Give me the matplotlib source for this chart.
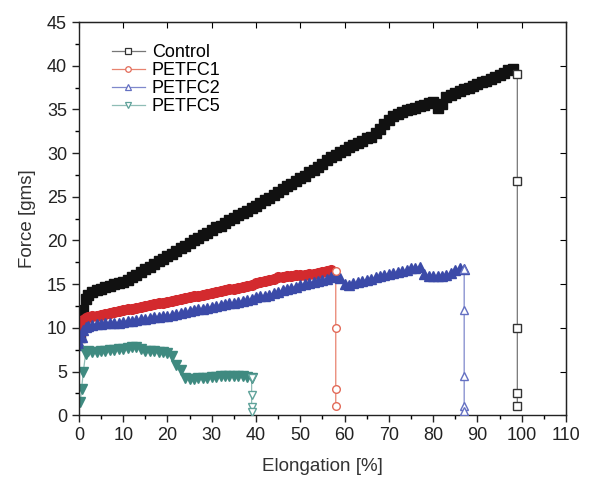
import matplotlib
matplotlib.use("Agg")
import matplotlib.pyplot as plt
from matplotlib.lines import Line2D
from matplotlib.ticker import MultipleLocator

plt.rcParams['font.family'] = ['Liberation Sans', 'DejaVu Sans']

# tramo continuo (banda densa) de cada serie
ctrl_x = [0.3, 0.6, 1, 1.5] + list(range(2, 99))
ctrl_y = [9.0, 10.5, 12.0, 13.3,
          13.8, 14.1, 14.3, 14.5, 14.7, 14.8, 15.0, 15.1, 15.3, 15.5,
          15.8, 16.1, 16.4, 16.7, 17.0, 17.3, 17.6, 17.9, 18.2, 18.5,
          18.8, 19.1, 19.4, 19.7, 20.0, 20.3, 20.6, 20.9, 21.2, 21.5,
          21.7, 22.0, 22.3, 22.6, 22.9, 23.1, 23.4, 23.7, 24.0, 24.3,
          24.6, 24.9, 25.2, 25.6, 25.9, 26.2, 26.5, 26.8, 27.1, 27.4,
          27.8, 28.1, 28.4, 28.8, 29.2, 29.5, 29.8, 30.1, 30.4, 30.7,
          30.9, 31.2, 31.4, 31.7, 31.9, 32.3, 32.8, 33.3, 33.8, 34.2,
          34.5, 34.7, 34.9, 35.0, 35.2, 35.4, 35.5, 35.7, 35.8, 35.2,
          35.6, 36.4, 36.7, 36.9, 37.1, 37.3, 37.5, 37.7, 37.9, 38.1,
          38.3, 38.5, 38.7, 38.9, 39.2, 39.5, 39.6]
ctrl_rot_x = 99
ctrl_rot_y = [39.0, 26.8, 10.0, 2.5, 1.0]

p1_x = [0.3, 0.6, 1, 1.5] + list(range(2, 58))
p1_y = [9.3, 10.2, 10.9, 11.1,
        11.2, 11.3, 11.4, 11.5, 11.6, 11.7, 11.8, 11.9, 12.0, 12.1,
        12.2, 12.3, 12.4, 12.5, 12.6, 12.7, 12.8, 12.9, 13.0, 13.1,
        13.2, 13.3, 13.4, 13.5, 13.6, 13.7, 13.8, 13.9, 14.0, 14.1,
        14.2, 14.3, 14.4, 14.5, 14.6, 14.7, 14.8, 14.9, 15.1, 15.2,
        15.4, 15.5, 15.6, 15.8, 15.8, 15.9, 15.9, 16.0, 16.0, 16.1,
        16.2, 16.2, 16.3, 16.4, 16.5, 16.6]
p1_rot_x = 58
p1_rot_y = [16.5, 10.0, 3.0, 1.0]

p2_x = [0.3, 0.6, 1, 1.5] + list(range(2, 88))
p2_y = [8.0, 9.0, 9.8, 10.1,
        10.2, 10.3, 10.4, 10.4, 10.5, 10.5, 10.6, 10.6, 10.7, 10.8,
        10.8, 10.9, 11.0, 11.0, 11.1, 11.2, 11.2, 11.3, 11.4, 11.5,
        11.6, 11.7, 11.8, 11.9, 12.0, 12.1, 12.2, 12.3, 12.4, 12.5,
        12.6, 12.7, 12.8, 12.9, 13.0, 13.1, 13.2, 13.3, 13.5, 13.6,
        13.7, 13.8, 14.0, 14.1, 14.3, 14.4, 14.6, 14.7, 14.9, 15.0,
        15.1, 15.3, 15.4, 15.5, 15.6, 15.8, 15.9, 15.7, 15.0, 14.9,
        15.1, 15.3, 15.4, 15.5, 15.6, 15.8, 15.9, 16.1, 16.2, 16.3,
        16.4, 16.5, 16.6, 16.8, 16.9, 17.0, 16.2, 15.9, 15.9, 15.9,
        15.9, 16.0, 16.3, 16.6, 16.8, 16.7]
p2_rot_x = 87
p2_rot_y = [16.7, 12.0, 4.5, 1.0, 0.5]

p5_x = [0.3, 0.6, 1, 1.5] + list(range(2, 40))
p5_y = [1.5, 3.0, 5.0, 7.0,
        7.3, 7.2, 7.2, 7.3, 7.4, 7.5, 7.5, 7.6, 7.6, 7.7,
        7.8, 7.8, 7.6, 7.3, 7.3, 7.3, 7.2, 7.2, 7.1, 6.8,
        5.7, 5.2, 4.3, 4.2, 4.2, 4.3, 4.3, 4.3, 4.4, 4.4,
        4.5, 4.5, 4.5, 4.5, 4.5, 4.5, 4.4, 4.3]
p5_rot_x = 39
p5_rot_y = [4.3, 2.3, 0.9, 0.4]

series = [
    ("Control", ctrl_x, ctrl_y, ctrl_rot_x, ctrl_rot_y, 's', '#111111', '#777777', '#333333', 7.5),
    ("PETFC1", p1_x, p1_y, p1_rot_x, p1_rot_y, 'o', '#d32a2e', '#e8836f', '#e26a58', 7),
    ("PETFC2", p2_x, p2_y, p2_rot_x, p2_rot_y, '^', '#3b4aa8', '#7f88cc', '#6470c2', 7.5),
    ("PETFC5", p5_x, p5_y, p5_rot_x, p5_rot_y, 'v', '#3f8a80', '#8fbdb6', '#5fa29a', 7.5),
]

fig = plt.figure(figsize=(5.89, 4.8), dpi=100)
ax = fig.add_axes([0.134, 0.135, 0.827, 0.819])

handles = []
for nombre, x, y, xr, yr, mk, col, lcol, mcol, tam in series:
    todos_x = list(x) + [xr] * len(yr)
    todos_y = list(y) + list(yr)
    ax.plot(todos_x, todos_y, '-', color=lcol, lw=0.9, zorder=1)
    ax.plot(x, y, mk, color=col, ms=tam, mec=col, mfc=col, mew=1.0, zorder=2)
    ax.plot([xr] * len(yr), yr, mk, ms=5.5, mec=mcol, mfc='white', mew=1.0, zorder=3)
    handles.append(Line2D([], [], color=lcol, lw=0.9, marker=mk, ms=4,
                          mfc='white', mec=mcol, mew=0.9))

ax.set_xlim(0, 110)
ax.set_ylim(0, 45)
ax.xaxis.set_major_locator(MultipleLocator(10))
ax.xaxis.set_minor_locator(MultipleLocator(5))
ax.yaxis.set_major_locator(MultipleLocator(5))
ax.yaxis.set_minor_locator(MultipleLocator(2.5))
ax.tick_params(which='major', direction='out', length=5, width=1, labelsize=13, colors='#222222')
ax.tick_params(which='minor', direction='out', length=3, width=1)
sec_x = ax.secondary_xaxis('top')
sec_x.xaxis.set_major_locator(MultipleLocator(10))
sec_x.tick_params(direction='in', length=4, labeltop=False)
sec_y = ax.secondary_yaxis('right')
sec_y.yaxis.set_major_locator(MultipleLocator(5))
sec_y.tick_params(direction='in', length=4, labelright=False)
for s in ax.spines.values():
    s.set_linewidth(1.0)
    s.set_color('#222222')

ax.set_xlabel("Elongation [%]", fontsize=13.5, color='#333333', labelpad=10)
ax.set_ylabel("Force [gms]", fontsize=13.5, color='#333333', labelpad=8)

ax.legend(handles, ["Control", "PETFC1", "PETFC2", "PETFC5"], loc='upper left',
          bbox_to_anchor=(0.035, 0.985), frameon=False, fontsize=13,
          handlelength=1.8, labelspacing=0.05, handletextpad=0.4)

fig.savefig("out.png", dpi=100)
